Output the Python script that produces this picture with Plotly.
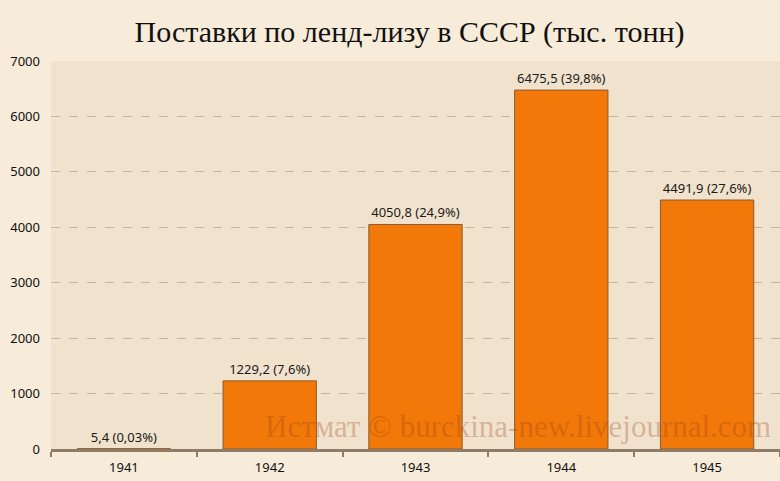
import plotly.graph_objects as go

# Lend-lease deliveries to the USSR, thousand tonnes
years = ["1941", "1942", "1943", "1944", "1945"]
tonnes = [5.4, 1229.2, 4050.8, 6475.5, 4491.9]
tonnes_txt = ["5,4", "1229,2", "4050,8", "6475,5", "4491,9"]
shares_txt = ["0,03%", "7,6%", "24,9%", "39,8%", "27,6%"]

labels = [f"{t} ({s})" for t, s in zip(tonnes_txt, shares_txt)]

fig = go.Figure()

fig.add_trace(go.Bar(
    x=years,
    y=tonnes,
    text=labels,
    textposition="outside",
    cliponaxis=False,
    textfont=dict(family="Noto Sans", size=13, color="#1a1a1a"),
    marker=dict(color="#f2780a", line=dict(color="#8a5a30", width=1)),
))

fig.update_layout(
    width=780,
    height=481,
    margin=dict(l=51, r=0, t=61, b=32, autoexpand=False),
    paper_bgcolor="#f7ebd9",
    plot_bgcolor="#f0e2cd",
    bargap=0.36,
    showlegend=False,
    title=dict(
        text="Поставки по ленд-лизу в СССР (тыс. тонн)",
        x=0.525, xanchor="center", y=0.935, yanchor="middle",
        font=dict(family="Liberation Serif", size=30, color="#111111"),
    ),
    font=dict(family="Noto Sans", size=13, color="#111111"),
)

fig.update_yaxes(
    range=[0, 7000],
    dtick=1000,
    tickformat="d",
    showgrid=True,
    gridcolor="#c4b49c",
    griddash="dash",
    gridwidth=1,
    zeroline=False,
    showline=False,
    ticks="",
    ticklabelstandoff=10,
    tickfont=dict(size=13, color="#111111"),
)

fig.update_xaxes(
    showline=True,
    linecolor="#8c7c68",
    linewidth=3,
    ticks="outside",
    tickson="boundaries",
    ticklen=5,
    tickwidth=2,
    tickcolor="#8c7c68",
    tickfont=dict(size=13, color="#111111"),
    ticklabelstandoff=4,
)

fig.add_annotation(
    text="Истмат © burckina-new.livejournal.com",
    xref="paper", yref="paper",
    x=0.99, y=0.058, xanchor="right", yanchor="middle",
    showarrow=False,
    font=dict(family="Liberation Serif", size=31, color="rgba(150,60,20,0.3)"),
)

fig.write_html(
    "out.html",
    config={"displayModeBar": False},
    post_script="document.body.style.margin='0';",
)
